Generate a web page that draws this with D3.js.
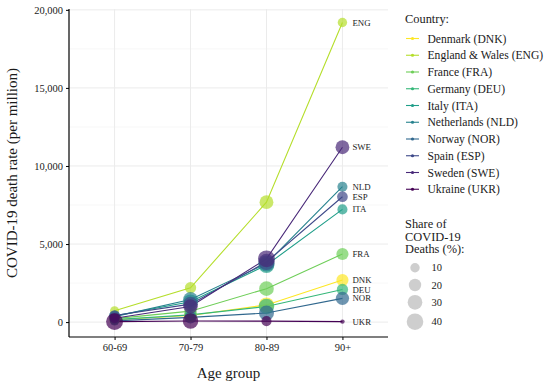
<!DOCTYPE html>
<html>
<head>
<meta charset="utf-8">
<script src="https://cdn.jsdelivr.net/npm/d3@7"></script>
<style>
  body { margin: 0; background: #fff; }
  svg text { font-family: "Liberation Serif", "DejaVu Serif", serif; fill: #1a1a1a; }
</style>
</head>
<body>
<svg id="chart" width="550" height="387"></svg>
<script>
// ---- data ----
const ageGroups = ["60-69", "70-79", "80-89", "90+"]
const countryNames = ["Denmark (DNK)", "England & Wales (ENG)", "France (FRA)", "Germany (DEU)", "Italy (ITA)",
    "Netherlands (NLD)", "Norway (NOR)", "Spain (ESP)", "Sweden (SWE)", "Ukraine (UKR)"]
const countryCodes = ["DNK", "ENG", "FRA", "DEU", "ITA", "NLD", "NOR", "ESP", "SWE", "UKR"]
// death rate per million, one row per country, columns follow ageGroups
const deathRates = [
    [150, 420, 1100, 2690],
    [730, 2200, 7680, 19190],
    [220, 700, 2140, 4360],
    [160, 460, 1000, 2090],
    [400, 1300, 3650, 7220],
    [350, 1450, 3750, 8670],
    [80, 300, 580, 1520],
    [420, 1150, 3850, 8030],
    [250, 1000, 4050, 11200],
    [30, 70, 60, 30]
]
// share of COVID-19 deaths (%), same layout
const deathShares = [
    [12, 22, 32, 19],
    [9, 16, 26, 10],
    [12, 20, 30, 19],
    [12, 20, 34, 16],
    [14, 30, 36, 12],
    [13, 30, 37, 12],
    [10, 20, 32, 24],
    [14, 30, 38, 14],
    [12, 28, 42, 26],
    [42, 34, 12, 1]
]
const yTicks = [0, 5000, 10000, 15000, 20000]
const sizeLegendValues = [10, 20, 30, 40]

// ---- layout ----
const svg = d3.select('#chart')
const panel = { left: 69, right: 388, top: 9, bottom: 337 }
const FONT = '"Liberation Serif", "DejaVu Serif", serif'

const x = d3.scalePoint().domain(ageGroups).range([panel.left, panel.right]).padding(0.6)
const y = d3.scaleLinear().domain([-955, 20055]).range([panel.bottom, panel.top])
const r = d3.scaleSqrt().domain([10, 40]).range([4.7, 8.3])
const colour = d3.scaleOrdinal().domain(countryCodes)
    .range(d3.quantize(d3.interpolateViridis, 10).reverse())

// gridlines
const grid = svg.append('g')
const minorTicks = d3.range(-2500, 20001, 5000).filter(v => v > -955)
grid.selectAll('line.minor').data(minorTicks).enter().append('line')
    .attr('x1', panel.left).attr('x2', panel.right)
    .attr('y1', d => y(d)).attr('y2', d => y(d))
    .style('stroke', '#f2f2f2').style('stroke-width', 0.6)
grid.selectAll('line.major').data(yTicks).enter().append('line')
    .attr('x1', panel.left).attr('x2', panel.right)
    .attr('y1', d => y(d)).attr('y2', d => y(d))
    .style('stroke', '#ebebeb').style('stroke-width', 1)
grid.selectAll('line.vert').data(ageGroups).enter().append('line')
    .attr('x1', d => x(d)).attr('x2', d => x(d))
    .attr('y1', panel.top).attr('y2', panel.bottom)
    .style('stroke', '#ebebeb').style('stroke-width', 1)

// axes
const yAxis = svg.append('g')
    .attr('transform', `translate(${panel.left},0)`)
    .call(d3.axisLeft(y).tickValues(yTicks).tickSize(3).tickPadding(3).tickFormat(d3.format(',')))
yAxis.select('.domain').attr('d', `M0,${panel.top}V${panel.bottom}`).style('stroke', '#000').style('stroke-width', 1.2)
yAxis.selectAll('text').style('font-size', '10.5px').style('font-family', FONT).style('fill', '#1a1a1a')

const xAxis = svg.append('g')
    .attr('transform', `translate(0,${panel.bottom})`)
    .call(d3.axisBottom(x).tickSize(3).tickPadding(4))
xAxis.select('.domain').attr('d', `M${panel.left},0H${panel.right}`).style('stroke', '#000').style('stroke-width', 1.2)
xAxis.selectAll('text').style('font-size', '10.5px').style('font-family', FONT).style('fill', '#1a1a1a')

// axis titles
svg.append('text')
    .attr('transform', `translate(17,${(panel.top + panel.bottom) / 2}) rotate(-90)`)
    .attr('text-anchor', 'middle')
    .style('font-size', '15px')
    .text('COVID-19 death rate (per million)')
svg.append('text')
    .attr('x', (panel.left + panel.right) / 2).attr('y', 378)
    .attr('text-anchor', 'middle')
    .style('font-size', '15px')
    .text('Age group')

// series
const series = countryCodes.map((code, i) => ({
    code,
    points: ageGroups.map((age, j) => ({ code, age, rate: deathRates[i][j], share: deathShares[i][j] }))
}))

const line = d3.line().x(d => x(d.age)).y(d => y(d.rate))
svg.append('g').selectAll('path').data(series).enter().append('path')
    .attr('d', d => line(d.points))
    .style('fill', 'none')
    .style('stroke', d => colour(d.code))
    .style('stroke-width', 1.1)

svg.append('g').selectAll('circle').data(series.flatMap(s => s.points)).enter().append('circle')
    .attr('cx', d => x(d.age)).attr('cy', d => y(d.rate))
    .attr('r', d => r(d.share))
    .style('fill', d => colour(d.code))
    .style('fill-opacity', 0.7)

// end labels
svg.append('g').selectAll('text').data(series).enter().append('text')
    .attr('x', x('90+') + 10)
    .attr('y', d => y(d.points[3].rate))
    .attr('dy', '0.35em')
    .style('font-size', '8.8px')
    .text(d => d.code)

// colour legend
const legend = svg.append('g')
legend.append('text').attr('x', 405).attr('y', 23).style('font-size', '12.4px').text('Country:')
const rows = legend.selectAll('g.row').data(countryCodes).enter().append('g')
    .attr('transform', (d, i) => `translate(0,${38.5 + i * 16.75})`)
rows.append('line').attr('x1', 406).attr('x2', 419).attr('y1', 0).attr('y2', 0)
    .style('stroke', d => colour(d)).style('stroke-width', 1.1)
rows.append('circle').attr('cx', 412.5).attr('cy', 0).attr('r', 1.6)
    .style('fill', d => colour(d))
rows.append('text').attr('x', 427.5).attr('dy', '0.35em').style('font-size', '11.6px')
    .text((d, i) => countryNames[i])

// size legend
const sizeTitle = ['Share of', 'COVID-19', 'Deaths (%):']
legend.selectAll('text.stitle').data(sizeTitle).enter().append('text')
    .attr('x', 405).attr('y', (d, i) => 228 + i * 12.5)
    .style('font-size', '12.4px').text(d => d)
const sizeRows = legend.selectAll('g.srow').data(sizeLegendValues).enter().append('g')
    .attr('transform', (d, i) => `translate(0,${[267.7, 285, 302.3, 321.7][i]})`)
sizeRows.append('circle').attr('cx', 415).attr('r', d => r(d))
    .style('fill', '#bdbdbd').style('fill-opacity', 0.75)
sizeRows.append('text').attr('x', 431.5).attr('dy', '0.35em').style('font-size', '10.5px').text(d => d)
</script>
</body>
</html>
